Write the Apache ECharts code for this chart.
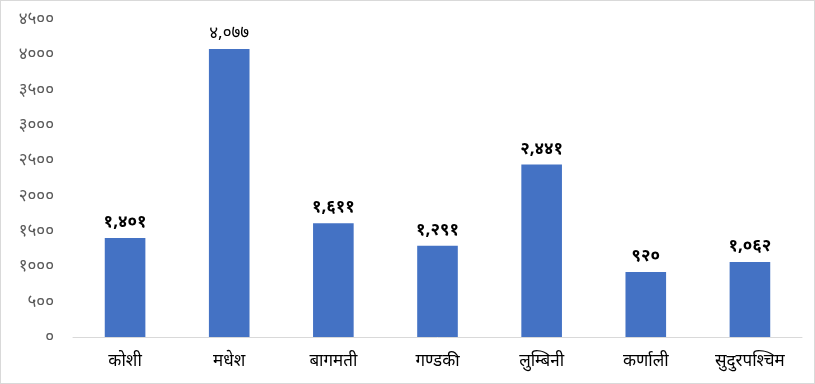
<!DOCTYPE html>
<html>
<head>
<meta charset="utf-8">
<script src="https://cdn.jsdelivr.net/npm/echarts@6/dist/echarts.min.js"></script>
<style>
html,body{margin:0;padding:0;background:#fff;}
#c{width:813px;height:382px;border:1px solid #d9d9d9;}
</style>
</head>
<body>
<div id="c"></div>
<script>
const categories = ['कोशी','मधेश','बागमती','गण्डकी','लुम्बिनी','कर्णाली','सुदुरपश्चिम'];
const values = [1401, 4077, 1611, 1291, 2441, 920, 1062];
const yTicks = [0, 500, 1000, 1500, 2000, 2500, 3000, 3500, 4000, 4500];

const digits = ['०','१','२','३','४','५','६','७','८','९'];
function toDev(s){ return String(s).replace(/[0-9]/g, d => digits[+d]); }
function fmt(n){ return toDev(n.toLocaleString('en-US')); }

const seriesData = values.map((v, i) => i === 1
  ? {value: v, label: {fontWeight: 'normal'}}
  : v);

const chart = echarts.init(document.getElementById('c'));
chart.setOption({
  animation:false,
  grid:{left:72, right:12, top:18, bottom:46},
  xAxis:{
    type:'category',
    data:categories,
    axisTick:{show:false},
    axisLine:{lineStyle:{color:'#d9d9d9', width:1}},
    axisLabel:{color:'#000', fontSize:17, margin:16, fontFamily:'Noto Sans, sans-serif'}
  },
  yAxis:{
    type:'value',
    min:yTicks[0], max:yTicks[yTicks.length-1], interval:500,
    splitLine:{show:false},
    axisLine:{show:false},
    axisTick:{show:false},
    axisLabel:{color:'#595959', fontSize:17, margin:19, fontFamily:'Noto Sans, sans-serif',
      formatter:v=>toDev(v)}
  },
  series:[{
    type:'bar',
    data:seriesData,
    barWidth:'39%',
    itemStyle:{color:'#4472C4'},
    label:{show:true, position:'top', distance:7, color:'#000', fontSize:17, fontWeight:'bold',
      fontFamily:'Noto Sans, sans-serif', formatter:p=>fmt(p.value)}
  }]
});
</script>
</body>
</html>
